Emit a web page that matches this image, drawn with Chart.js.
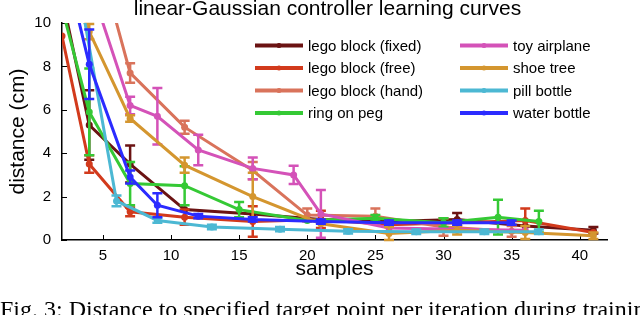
<!DOCTYPE html>
<html>
<head>
<meta charset="utf-8">
<script src="https://cdn.jsdelivr.net/npm/chart.js@4/dist/chart.umd.min.js"></script>
<style>
  html, body { margin: 0; padding: 0; background: #fff; }
  #wrap { position: relative; width: 640px; height: 315px; overflow: hidden; }
  #cv { position: absolute; left: 0; top: 0; }
  #caption { position: absolute; left: 0; top: 297px; font: 24px/1 "Liberation Serif", "Times New Roman", serif; color: #000; white-space: nowrap; }
</style>
</head>
<body>
<div id="wrap">
  <canvas id="cv" width="640" height="315"></canvas>
  <div id="caption">Fig. 3: Distance to specified target point per iteration during training</div>
</div>
<script>
/* linear-Gaussian controller learning curves, with error bars */
(function () {
  "use strict";
  var TITLE = "linear-Gaussian controller learning curves";
  var X_TICKS = [5, 10, 15, 20, 25, 30, 35, 40];
  var Y_TICKS = [0, 2, 4, 6, 8, 10];

  var LABELS = ["lego block (fixed)", "lego block (free)", "lego block (hand)", "ring on peg",
                "toy airplane", "shoe tree", "pill bottle", "water bottle"];
  var COLORS = ["#6b1313", "#d23a1c", "#d9735b", "#35c935", "#d452b8", "#d4962f", "#4cb8d3", "#2b2bff"];

  var fixedX = [2, 4, 7, 11, 16, 21, 26, 31, 36, 41];
  var fixedY = [11.2, 5.3, 3.5, 1.4, 1.2, 0.95, 0.85, 0.95, 0.65, 0.45];
  var fixedE = [0, 1.6, 0.85, 0, 0, 0, 0, 0.3, 0, 0.15];

  var freeX = [2, 4, 7, 11, 16, 21, 26, 31, 36, 41];
  var freeY = [9.4, 3.5, 1.3, 1.05, 0.85, 0.95, 0.7, 0.8, 0.9, 0.35];
  var freeE = [0, 0.4, 0.2, 0.35, 0.7, 0.4, 0, 0, 0.55, 0];

  var handX = [4, 7, 11, 16, 20, 25, 30, 35];
  var handY = [14.6, 7.7, 5.2, 3.2, 1.15, 1.1, 0.6, 0.4];
  var handE = [0, 0.45, 0.3, 0.4, 0.3, 0.35, 0.4, 0.25];

  var ringX = [2, 4, 7, 11, 15, 20, 25, 30, 34, 37];
  var ringY = [10.7, 5.9, 2.6, 2.5, 1.4, 0.9, 1.0, 0.8, 1.05, 0.85];
  var ringE = [0, 2.0, 1.0, 0.9, 0.35, 0, 0.15, 0.2, 0.8, 0.5];

  var planeX = [4, 7, 9, 12, 16, 19, 21, 26, 31, 36];
  var planeY = [11.9, 6.2, 5.7, 4.15, 3.3, 3.0, 1.2, 0.55, 0.5, 0.45];
  var planeE = [0, 0.4, 1.3, 0.7, 0.5, 0.42, 1.1, 0, 0, 0];

  var shoeX = [2, 4, 7, 11, 16, 21, 26, 31, 36, 41];
  var shoeY = [12.2, 9.6, 5.6, 3.45, 2.0, 0.75, 0.3, 0.45, 0.35, 0.2];
  var shoeE = [0, 0.35, 0.15, 0.35, 1.1, 0, 0.3, 0.2, 0.3, 0.15];

  var pillX = [2, 6, 9, 13, 18, 23, 28, 33, 37];
  var pillY = [16, 1.8, 0.9, 0.6, 0.5, 0.4, 0.38, 0.38, 0.38];
  var pillE = [0, 0.25, 0.1, 0.1, 0.1, 0.1, 0.1, 0.1, 0.1];

  var waterX = [2, 4, 7, 9, 12, 16, 21, 26, 31, 35];
  var waterY = [13.3, 8.1, 2.9, 1.6, 1.1, 0.95, 0.85, 0.8, 0.8, 0.8];
  var waterE = [0, 1.6, 0.3, 0.55, 0.1, 0.1, 0.1, 0.1, 0.1, 0.1];

  var SERIES = [[fixedX, fixedY, fixedE], [freeX, freeY, freeE], [handX, handY, handE], [ringX, ringY, ringE],
                [planeX, planeY, planeE], [shoeX, shoeY, shoeE], [pillX, pillY, pillE], [waterX, waterY, waterE]];

  Chart.defaults.font.family = "'Liberation Sans', Arial, sans-serif";
  Chart.defaults.color = "#000";

  var datasets = SERIES.map(function (s, i) {
    return {
      label: LABELS[i],
      data: s[0].map(function (x, j) { return { x: x, y: s[1][j] }; }),
      err: s[2],
      borderColor: COLORS[i], backgroundColor: COLORS[i],
      borderWidth: 3, pointRadius: 3.5, pointHoverRadius: 3.5, pointBorderWidth: 0,
      tension: 0, order: SERIES.length - i
    };
  });

  var errorBars = {
    id: "errorBars",
    afterDatasetDraw: function (chart, args) {
      var ds = chart.data.datasets[args.index];
      if (!ds.err) return;
      var xs = chart.scales.x, ys = chart.scales.y, a = chart.chartArea, ctx = chart.ctx;
      ctx.save();
      ctx.beginPath(); ctx.rect(a.left, a.top - 1, a.right - a.left, a.bottom - a.top + 3); ctx.clip();
      ctx.strokeStyle = ds.borderColor; ctx.lineWidth = 2.5;
      ds.data.forEach(function (p, i) {
        var e = ds.err[i];
        if (!e) return;
        var px = xs.getPixelForValue(p.x), y0 = ys.getPixelForValue(p.y - e), y1 = ys.getPixelForValue(p.y + e);
        ctx.beginPath();
        ctx.moveTo(px, y0); ctx.lineTo(px, y1);
        ctx.moveTo(px - 5, y0); ctx.lineTo(px + 5, y0);
        ctx.moveTo(px - 5, y1); ctx.lineTo(px + 5, y1);
        ctx.stroke();
      });
      ctx.restore();
    }
  };

  // matlab style: ticks point into the plot
  var innerTicks = {
    id: "innerTicks",
    beforeDatasetsDraw: function (chart) {
      var a = chart.chartArea, ctx = chart.ctx, xs = chart.scales.x, ys = chart.scales.y;
      ctx.save(); ctx.strokeStyle = "#000"; ctx.lineWidth = 1;
      xs.ticks.forEach(function (t) {
        var px = Math.round(xs.getPixelForValue(t.value)) + 0.5;
        ctx.beginPath(); ctx.moveTo(px, a.bottom); ctx.lineTo(px, a.bottom - 5); ctx.stroke();
      });
      ys.ticks.forEach(function (t) {
        var py = Math.round(ys.getPixelForValue(t.value)) + 0.5;
        ctx.beginPath(); ctx.moveTo(a.left, py); ctx.lineTo(a.left + 5, py); ctx.stroke();
      });
      ctx.restore();
    }
  };

  var topTitle = {
    id: "topTitle",
    afterDraw: function (chart) {
      var ctx = chart.ctx;
      ctx.save();
      ctx.font = "21px 'Liberation Sans', Arial, sans-serif";
      ctx.fillStyle = "#000"; ctx.textAlign = "center"; ctx.textBaseline = "alphabetic";
      ctx.fillText(TITLE, chart.chartArea.left + 265.5, 14.5);
      ctx.restore();
    }
  };

  // two-column legend inside the plot
  var boxLegend = {
    id: "boxLegend",
    afterDraw: function (chart) {
      var ctx = chart.ctx, a = chart.chartArea;
      ctx.save();
      ctx.font = "15px 'Liberation Sans', Arial, sans-serif";
      ctx.textBaseline = "middle"; ctx.textAlign = "left";
      chart.data.datasets.forEach(function (ds, i) {
        var col = i < 4 ? 0 : 1, row = i % 4;
        var x0 = a.left + (col ? 398 : 193), y = a.top + 22.5 + row * 22.5;
        ctx.strokeStyle = ds.borderColor; ctx.lineWidth = 4;
        ctx.beginPath(); ctx.moveTo(x0, y); ctx.lineTo(x0 + 48, y); ctx.stroke();
        ctx.fillStyle = ds.borderColor;
        ctx.beginPath(); ctx.arc(x0 + 24, y, 2.5, 0, Math.PI * 2); ctx.fill();
        ctx.fillStyle = "#000";
        ctx.fillText(ds.label, x0 + 53, y + 1);
      });
      ctx.restore();
    }
  };

  new Chart(document.getElementById("cv"), {
    type: "line",
    data: { datasets: datasets },
    plugins: [errorBars, innerTicks, topTitle, boxLegend],
    options: {
      responsive: false, animation: false, events: [],
      layout: { padding: { left: 0, top: 23, right: 33, bottom: 33 } },
      plugins: { legend: { display: false }, title: { display: false }, tooltip: { enabled: false } },
      scales: {
        x: {
          type: "linear", min: 2, max: 42,
          afterBuildTicks: function (s) { s.ticks = X_TICKS.map(function (v) { return { value: v }; }); },
          afterFit: function (s) { s.height = 42; },
          grid: { display: true, drawOnChartArea: false, drawTicks: false },
          border: { display: true, color: "#000", width: 1.5 },
          ticks: { padding: 7, maxRotation: 0, font: { size: 15 } },
          title: { display: true, text: "samples", font: { size: 21 }, padding: { top: 0, bottom: 0 } }
        },
        y: {
          min: 0, max: 10,
          afterBuildTicks: function (s) { s.ticks = Y_TICKS.map(function (v) { return { value: v }; }); },
          afterFit: function (s) { s.width = 62; },
          grid: { display: true, drawOnChartArea: false, drawTicks: false },
          border: { display: true, color: "#000", width: 1.5 },
          ticks: { padding: 11, font: { size: 15 } },
          title: { display: true, text: "distance (cm)", font: { size: 21 }, padding: { top: 6, bottom: 0 } }
        }
      }
    }
  });
})();
</script>
</body>
</html>
